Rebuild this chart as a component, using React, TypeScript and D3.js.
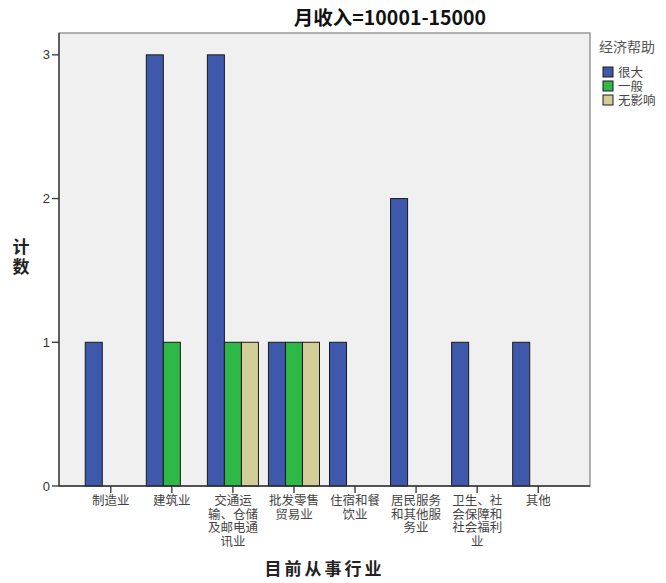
import React from "react";
import * as d3 from "d3";

const categories: string[][] = [
  ["制造业"],
  ["建筑业"],
  ["交通运", "输、仓储", "及邮电通", "讯业"],
  ["批发零售", "贸易业"],
  ["住宿和餐", "饮业"],
  ["居民服务", "和其他服", "务业"],
  ["卫生、社", "会保障和", "社会福利", "业"],
  ["其他"],
];
const seriesNames = ["很大", "一般", "无影响"];
const seriesColors = ["#3E58AC", "#2EB848", "#D3CE97"];
const veryHelpful = [1, 3, 3, 1, 1, 2, 1, 1];
const generalHelp = [0, 1, 1, 1, 0, 0, 0, 0];
const noEffect = [0, 0, 1, 1, 0, 0, 0, 0];
const yTicks = [0, 1, 2, 3];
const title = "月收入=10001-15000";
const xTitle = "目前从事行业";
const yTitle = ["计", "数"];
const legendTitle = "经济帮助";

const W = 666;
const H = 583;
const left = 59, right = 590, top = 33, bottom = 486;
const FONT = "'Liberation Sans', 'Noto Sans CJK SC', sans-serif";
const CJK = "'Noto Sans CJK SC', 'Liberation Sans', sans-serif";

export default function App() {
  const idx = categories.map((_, i) => String(i));
  const x = d3.scaleBand<string>().domain(idx).range([left, right]).paddingInner(0.164).paddingOuter(0.43);
  const xs = d3.scaleBand<string>().domain(seriesNames).range([0, x.bandwidth()]);
  const y = d3.scaleLinear().domain([0, 3.152]).range([bottom, top]);
  const series = [veryHelpful, generalHelp, noEffect];

  return (
    <svg width={W} height={H} style={{ position: "absolute", left: 0, top: 0, background: "#fff" }}>
      <text x={390} y={25} textAnchor="middle" fontFamily={CJK} fontWeight="bold" fontSize={19.5} fill="#111">
        {title}
      </text>
      <rect x={left} y={top} width={right - left} height={bottom - top} fill="#F0F0F0" stroke="#8a8a8a" strokeWidth={1.3} />
      {series.map((vals, s) =>
        vals.map((v, i) =>
          v > 0 ? (
            <rect
              key={`${s}-${i}`}
              x={(x(String(i)) as number) + (xs(seriesNames[s]) as number)}
              y={y(v)}
              width={xs.bandwidth()}
              height={y(0) - y(v)}
              fill={seriesColors[s]}
              stroke="#1a1a1a"
              strokeWidth={1}
            />
          ) : null
        )
      )}
      <line x1={left} x2={left} y1={top} y2={bottom} stroke="#333" strokeWidth={1.3} />
      <line x1={left} x2={right} y1={bottom} y2={bottom} stroke="#333" strokeWidth={1.3} />
      {yTicks.map((t) => (
        <g key={t}>
          <line x1={left - 7} x2={left} y1={y(t)} y2={y(t)} stroke="#333" strokeWidth={1.3} />
          <text x={left - 9} y={y(t) + 4.5} textAnchor="end" fontFamily={FONT} fontSize={13} fill="#333">
            {t}
          </text>
        </g>
      ))}
      {categories.map((lines, i) => {
        const cx = (x(String(i)) as number) + x.bandwidth() / 2;
        return (
          <g key={i}>
            <line x1={cx} x2={cx} y1={bottom} y2={bottom + 7} stroke="#333" strokeWidth={1.3} />
            {lines.map((ln, k) => (
              <text key={k} x={cx} y={bottom + 19 + k * 13.6} textAnchor="middle" fontFamily={CJK} fontSize={12.5} fill="#444">
                {ln}
              </text>
            ))}
          </g>
        );
      })}
      {yTitle.map((c, k) => (
        <text key={k} x={21} y={253 + k * 20} textAnchor="middle" fontFamily={CJK} fontWeight="bold" fontSize={17} fill="#222">
          {c}
        </text>
      ))}
      <text x={(left + right) / 2} y={575} textAnchor="middle" fontFamily={CJK} fontWeight="bold" fontSize={17} letterSpacing={3} fill="#222">
        {xTitle}
      </text>
      <text x={599} y={52} fontFamily={CJK} fontSize={14} fill="#555">
        {legendTitle}
      </text>
      {seriesNames.map((n, s) => (
        <g key={n}>
          <rect x={603} y={67 + s * 14} width={10} height={10} fill={seriesColors[s]} stroke="#1a1a1a" strokeWidth={1} />
          <text x={618} y={77 + s * 14} fontFamily={CJK} fontSize={12.5} fill="#444">
            {n}
          </text>
        </g>
      ))}
    </svg>
  );
}
